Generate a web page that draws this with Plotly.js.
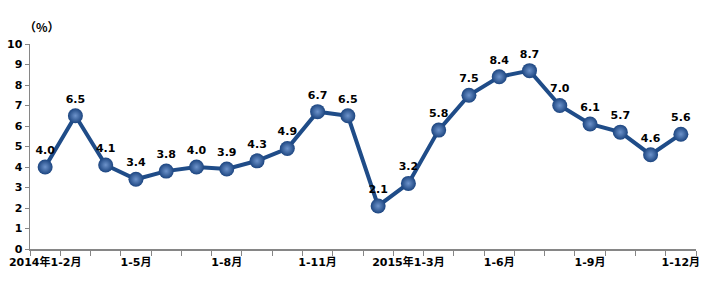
<!DOCTYPE html>
<html>
<head>
<meta charset="utf-8">
<script src="https://cdn.plot.ly/plotly-3.0.1.min.js"></script>
<style>html,body{margin:0;padding:0;background:#fff;}#chart{width:708px;height:290px;}</style>
</head>
<body>
<div id="chart"></div>
<script>
const categories = ["2014年1-2月","2014年1-3月","2014年1-4月","2014年1-5月","2014年1-6月","2014年1-7月","2014年1-8月","2014年1-9月","2014年1-10月","2014年1-11月","2014年1-12月",
  "2015年1-2月","2015年1-3月","2015年1-4月","2015年1-5月","2015年1-6月","2015年1-7月","2015年1-8月","2015年1-9月","2015年1-10月","2015年1-11月","2015年1-12月"];
const values = [4.0, 6.5, 4.1, 3.4, 3.8, 4.0, 3.9, 4.3, 4.9, 6.7, 6.5, 2.1, 3.2, 5.8, 7.5, 8.4, 8.7, 7.0, 6.1, 5.7, 4.6, 5.6];
const tickLabels = ["2014年1-2月","","","1-5月","","","1-8月","","","1-11月","","","2015年1-3月","","","1-6月","","","1-9月","","","1-12月"];
const yTicks = [0,1,2,3,4,5,6,7,8,9,10];
const unitLabel = "（%）";

const fontFam = "DejaVu Sans, Noto Sans CJK SC, sans-serif";

const trace = {
  x: categories,
  y: values,
  type: "scatter",
  mode: "lines+markers+text",
  text: values.map(v => v.toFixed(1)),
  textposition: "top center",
  textfont: {family: fontFam, size: 11, color: "#000", weight: "bold"},
  cliponaxis: false,
  line: {color: "#1f4c88", width: 4},
  marker: {size: 15, color: "#1c4580", gradient: {type: "radial", color: "#6d93cb"}, line: {width: 0}},
  hoverinfo: "x+y"
};

const layout = {
  width: 708, height: 290,
  margin: {l: 30, r: 12, t: 44, b: 41},
  paper_bgcolor: "#fff", plot_bgcolor: "#fff",
  showlegend: false,
  font: {family: fontFam, size: 11, color: "#000"},
  xaxis: {
    type: "category",
    range: [-0.5, categories.length - 0.5],
    tickmode: "array",
    tickvals: categories,
    ticktext: tickLabels,
    tickson: "boundaries",
    ticks: "outside", ticklen: 5, tickcolor: "#868686", tickwidth: 1,
    ticklabelstandoff: 2,
    showline: true, linecolor: "#868686", linewidth: 1.5,
    showgrid: false, zeroline: false,
    tickangle: 0,
    tickfont: {family: fontFam, size: 11, color: "#000", weight: "bold"}
  },
  yaxis: {
    range: [0, 10],
    tickmode: "array",
    tickvals: yTicks,
    ticks: "outside", ticklen: 4, tickcolor: "#868686", tickwidth: 1,
    showline: true, linecolor: "#868686", linewidth: 1.5,
    showgrid: false, zeroline: false,
    tickfont: {family: fontFam, size: 11, color: "#000", weight: "bold"}
  },
  annotations: [{
    text: unitLabel, xref: "paper", yref: "paper", x: -0.012, y: 1.085,
    xanchor: "left", yanchor: "middle", showarrow: false,
    font: {family: "Noto Sans CJK SC, sans-serif", size: 12, color: "#000", weight: "bold"}
  }]
};

Plotly.newPlot("chart", [trace], layout, {displayModeBar: false, staticPlot: true});
</script>
</body>
</html>
